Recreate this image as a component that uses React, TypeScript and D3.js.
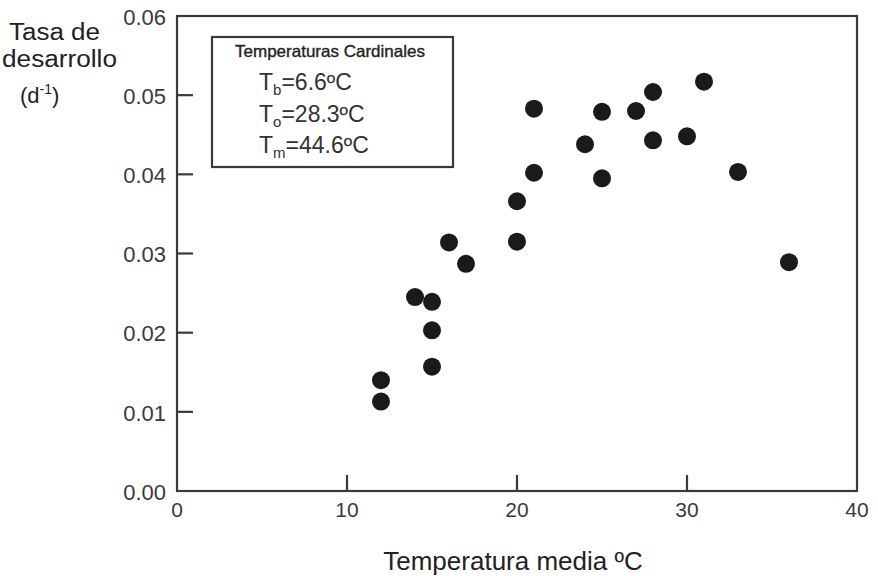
import React from "react";
import * as d3 from "d3";

const temps = [12, 12, 14, 15, 15, 15, 16, 17, 20, 20, 21, 21, 24, 25, 25, 27, 28, 28, 30, 31, 33, 36];
const rates = [0.0140, 0.0113, 0.0245, 0.0239, 0.0203, 0.0157, 0.0314, 0.0287, 0.0366, 0.0315, 0.0483, 0.0402, 0.0438, 0.0479, 0.0395, 0.0480, 0.0504, 0.0443, 0.0448, 0.0517, 0.0403, 0.0289];
const xTicks = [0, 10, 20, 30, 40];
const yTicks = [0, 0.01, 0.02, 0.03, 0.04, 0.05, 0.06];
const legendTitle = "Temperaturas Cardinales";
const legendItems = [
  { sub: "b", value: "=6.6ºC" },
  { sub: "o", value: "=28.3ºC" },
  { sub: "m", value: "=44.6ºC" },
];

const W = 878, H = 576;
const L = 177, R = 857, T = 16, B = 491;
const font = "'Liberation Sans', Arial, sans-serif";
const ink = "#222";
const grey = "#3a3a3a";

export default function App() {
  const x = d3.scaleLinear().domain([0, 40]).range([L, R]);
  const y = d3.scaleLinear().domain([0, 0.06]).range([B, T]);
  const legendBase = [90, 122, 153];
  return (
    <svg width={W} height={H} style={{ position: "absolute", left: 0, top: 0, background: "#fff" }} fontFamily={font}>
      <rect x={L} y={T} width={R - L} height={B - T} fill="none" stroke={grey} strokeWidth={2.2} />
      {yTicks.map((t, i) => (
        <g key={"y" + i}>
          {i > 0 && i < yTicks.length - 1 && (
            <line x1={L} x2={L + 16} y1={y(t)} y2={y(t)} stroke={grey} strokeWidth={2.2} />
          )}
          <text x={166} y={y(t) + 1} dy="0.35em" textAnchor="end" fontSize={22} fill="#3a3a3a">
            {t.toFixed(2)}
          </text>
        </g>
      ))}
      {xTicks.map((t, i) => (
        <g key={"x" + i}>
          {i > 0 && i < xTicks.length - 1 && (
            <line x1={x(t)} x2={x(t)} y1={B} y2={B - 16} stroke={grey} strokeWidth={2.2} />
          )}
          <text x={x(t)} y={517} textAnchor="middle" fontSize={21} fill="#3a3a3a">
            {t}
          </text>
        </g>
      ))}
      {temps.map((t, i) => (
        <circle key={i} cx={x(t)} cy={y(rates[i])} r={9} fill="#1a1a1a" />
      ))}
      <rect x={212} y={37} width={241} height={130} fill="#fff" stroke={grey} strokeWidth={2.2} />
      <text x={235} y={57} fontSize={16.5} fill={ink} stroke={ink} strokeWidth={0.35} textLength={190} lengthAdjust="spacingAndGlyphs">
        {legendTitle}
      </text>
      {legendItems.map((d, i) => (
        <text key={i} x={259} y={legendBase[i]} fontSize={23} fill="#333">
          T<tspan fontSize={15} dy={5}>{d.sub}</tspan>
          <tspan dy={-5}>{d.value}</tspan>
        </text>
      ))}
      <text x={9} y={40} fontSize={23} fill={ink} textLength={91} lengthAdjust="spacingAndGlyphs">Tasa de</text>
      <text x={2} y={67} fontSize={23} fill={ink} textLength={115} lengthAdjust="spacingAndGlyphs">desarrollo</text>
      <text x={20} y={103} fontSize={22} fill={ink}>
        (d<tspan fontSize={14} dy={-9}>-1</tspan><tspan dy={9}>)</tspan>
      </text>
      <text x={513} y={570} textAnchor="middle" fontSize={26} fill={ink}>
        Temperatura media ºC
      </text>
    </svg>
  );
}
